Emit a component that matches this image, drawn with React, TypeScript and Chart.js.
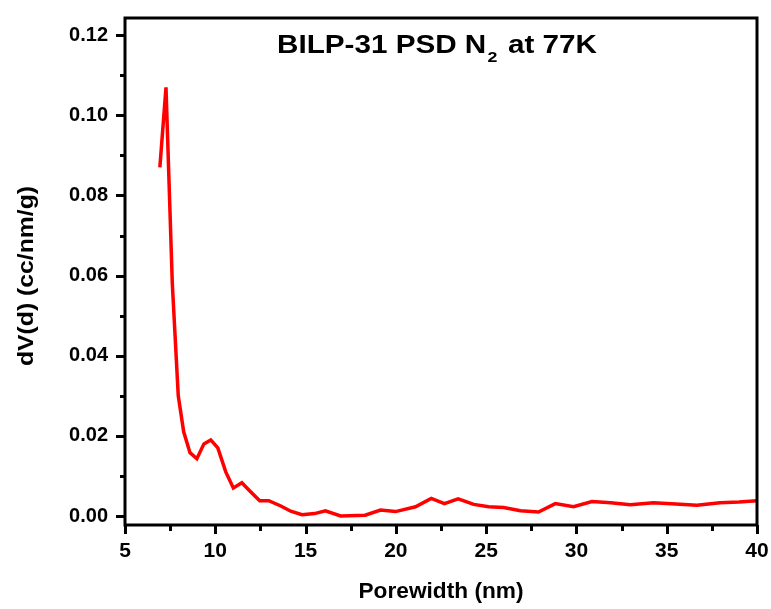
import React, { useEffect, useRef } from "react";
import { Chart, registerables } from "chart.js";

Chart.register(...registerables);

// ---- data ----
const poreWidth = [
  6.93, 7.27, 7.62, 7.95, 8.25, 8.6, 8.98, 9.37, 9.75, 10.14, 10.58, 11.0, 11.47, 11.9,
  12.46, 12.96, 13.63, 14.18, 14.8, 15.5, 16.1, 16.94, 18.3, 19.15, 19.98, 21.09, 21.96,
  22.69, 23.45, 24.31, 25.14, 25.97, 26.9, 27.9, 28.83, 29.84, 30.86, 31.9, 32.98, 34.27,
  35.5, 36.67, 37.95, 39.0, 40.0,
];
const dVd = [
  0.087, 0.107, 0.058, 0.03, 0.021, 0.0158, 0.0143, 0.018, 0.019, 0.017, 0.011, 0.007,
  0.0083, 0.0063, 0.0038, 0.0038, 0.0025, 0.0012, 0.0003, 0.0006, 0.0013, 0.0, 0.0002,
  0.0015, 0.0011, 0.0023, 0.0044, 0.0031, 0.0043, 0.0029, 0.0023, 0.0021, 0.0013, 0.001,
  0.0031, 0.0023, 0.0036, 0.0033, 0.0028, 0.0033, 0.003, 0.0027, 0.0033, 0.0035, 0.0038,
];

const xTickValues = [5, 10, 15, 20, 25, 30, 35, 40];
const xMinorTickValues = [7.5, 12.5, 17.5, 22.5, 27.5, 32.5, 37.5];
const yTickValues = [0, 0.02, 0.04, 0.06, 0.08, 0.1, 0.12];
const yMinorTickValues = [0.01, 0.03, 0.05, 0.07, 0.09, 0.11];

const titleMain = "BILP-31 PSD N";
const titleSub = "2";
const titleTail = " at 77K";
const xAxisTitle = "Porewidth (nm)";
const yAxisTitle = "dV(d) (cc/nm/g)";

const FONT = "'Liberation Sans', Arial, sans-serif";

export default function App() {
  const ref = useRef<HTMLCanvasElement | null>(null);

  useEffect(() => {
    document.body.style.margin = "0";
    const canvas = ref.current;
    if (!canvas) return;

    const decorPlugin = {
      id: "decor",
      afterDraw(chart: any) {
        const ctx = chart.ctx as CanvasRenderingContext2D;
        const { left, right, top, bottom } = chart.chartArea;
        const xs = chart.scales.x;
        const ys = chart.scales.y;
        ctx.save();
        ctx.strokeStyle = "#000";
        ctx.fillStyle = "#000";
        // ticks
        ctx.lineWidth = 3;
        ctx.beginPath();
        for (const v of yTickValues) {
          const p = Math.round(ys.getPixelForValue(v)) + 0.5;
          ctx.moveTo(left, p);
          ctx.lineTo(left - 9, p);
        }
        for (const v of yMinorTickValues) {
          const p = Math.round(ys.getPixelForValue(v)) + 0.5;
          ctx.moveTo(left, p);
          ctx.lineTo(left - 5, p);
        }
        for (const v of xTickValues) {
          const p = Math.round(xs.getPixelForValue(v)) + 0.5;
          ctx.moveTo(p, bottom);
          ctx.lineTo(p, bottom + 9);
        }
        for (const v of xMinorTickValues) {
          const p = Math.round(xs.getPixelForValue(v)) + 0.5;
          ctx.moveTo(p, bottom);
          ctx.lineTo(p, bottom + 6);
        }
        ctx.stroke();
        // frame
        ctx.lineWidth = 3;
        ctx.strokeRect(left, top, right - left, bottom - top);

        // chart title with subscript
        ctx.textBaseline = "alphabetic";
        ctx.textAlign = "left";
        const mainFont = `bold 25px ${FONT}`;
        const subFont = `bold 15px ${FONT}`;
        ctx.font = mainFont;
        const w1 = ctx.measureText(titleMain).width;
        const w3 = ctx.measureText(titleTail).width;
        ctx.font = subFont;
        const w2 = ctx.measureText(titleSub).width;
        const natural = w1 + 1 + w2 + 2 + w3;
        const sx = 320 / natural;
        ctx.save();
        ctx.translate(277, 53);
        ctx.scale(sx, 1);
        ctx.font = mainFont;
        ctx.fillText(titleMain, 0, 0);
        ctx.font = subFont;
        ctx.fillText(titleSub, w1 + 1, 9);
        ctx.font = mainFont;
        ctx.fillText(titleTail, w1 + 1 + w2 + 2, 0);
        ctx.restore();

        // x axis title
        ctx.save();
        ctx.font = `bold 22px ${FONT}`;
        ctx.textAlign = "center";
        ctx.textBaseline = "middle";
        const wx = ctx.measureText(xAxisTitle).width;
        ctx.translate((left + right) / 2, 592);
        ctx.scale(165 / wx, 1);
        ctx.fillText(xAxisTitle, 0, 0);
        ctx.restore();

        // y axis title
        ctx.save();
        ctx.font = `bold 22px ${FONT}`;
        ctx.textAlign = "center";
        ctx.textBaseline = "middle";
        const wy = ctx.measureText(yAxisTitle).width;
        ctx.translate(27, 276);
        ctx.rotate(-Math.PI / 2);
        ctx.scale(180 / wy, 1);
        ctx.fillText(yAxisTitle, 0, 0);
        ctx.restore();

        ctx.restore();
      },
    };

    const chart = new Chart(canvas, {
      type: "line",
      data: {
        datasets: [
          {
            data: poreWidth.map((x, i) => ({ x, y: dVd[i] })),
            borderColor: "#ff0000",
            borderWidth: 3.5,
            pointRadius: 0,
            fill: false,
            tension: 0,
          },
        ],
      },
      options: {
        responsive: false,
        animation: false,
        layout: { padding: { top: 18, right: 14, left: 0, bottom: 0 } },
        plugins: {
          legend: { display: false },
          tooltip: { enabled: false },
          title: { display: false },
        },
        scales: {
          x: {
            type: "linear",
            min: 5,
            max: 40,
            grid: { display: false, drawTicks: false },
            border: { display: false },
            afterBuildTicks: (axis: any) => {
              axis.ticks = xTickValues.map((v) => ({ value: v }));
            },
            afterFit: (axis: any) => {
              axis.height = 84;
              axis.paddingLeft = 0;
              axis.paddingRight = 0;
            },
            ticks: {
              autoSkip: false,
              maxRotation: 0,
              padding: 14,
              color: "#000",
              font: { family: FONT, weight: "bold", size: 21 },
              callback: (v: any) => String(v),
            },
          },
          y: {
            type: "linear",
            min: -0.00225,
            max: 0.1243,
            grid: { display: false, drawTicks: false },
            border: { display: false },
            afterBuildTicks: (axis: any) => {
              axis.ticks = yTickValues.map((v) => ({ value: v }));
            },
            afterFit: (axis: any) => {
              axis.width = 125;
              axis.paddingTop = 0;
              axis.paddingBottom = 0;
            },
            ticks: {
              autoSkip: false,
              padding: 17,
              color: "#000",
              font: { family: FONT, weight: "bold", size: 20 },
              callback: (v: any) => Number(v).toFixed(2),
            },
          },
        },
      },
      plugins: [decorPlugin],
    });

    return () => chart.destroy();
  }, []);

  return (
    <div style={{ width: 771, height: 609, position: "relative", background: "#fff" }}>
      <canvas ref={ref} width={771} height={609} style={{ display: "block" }} />
    </div>
  );
}
